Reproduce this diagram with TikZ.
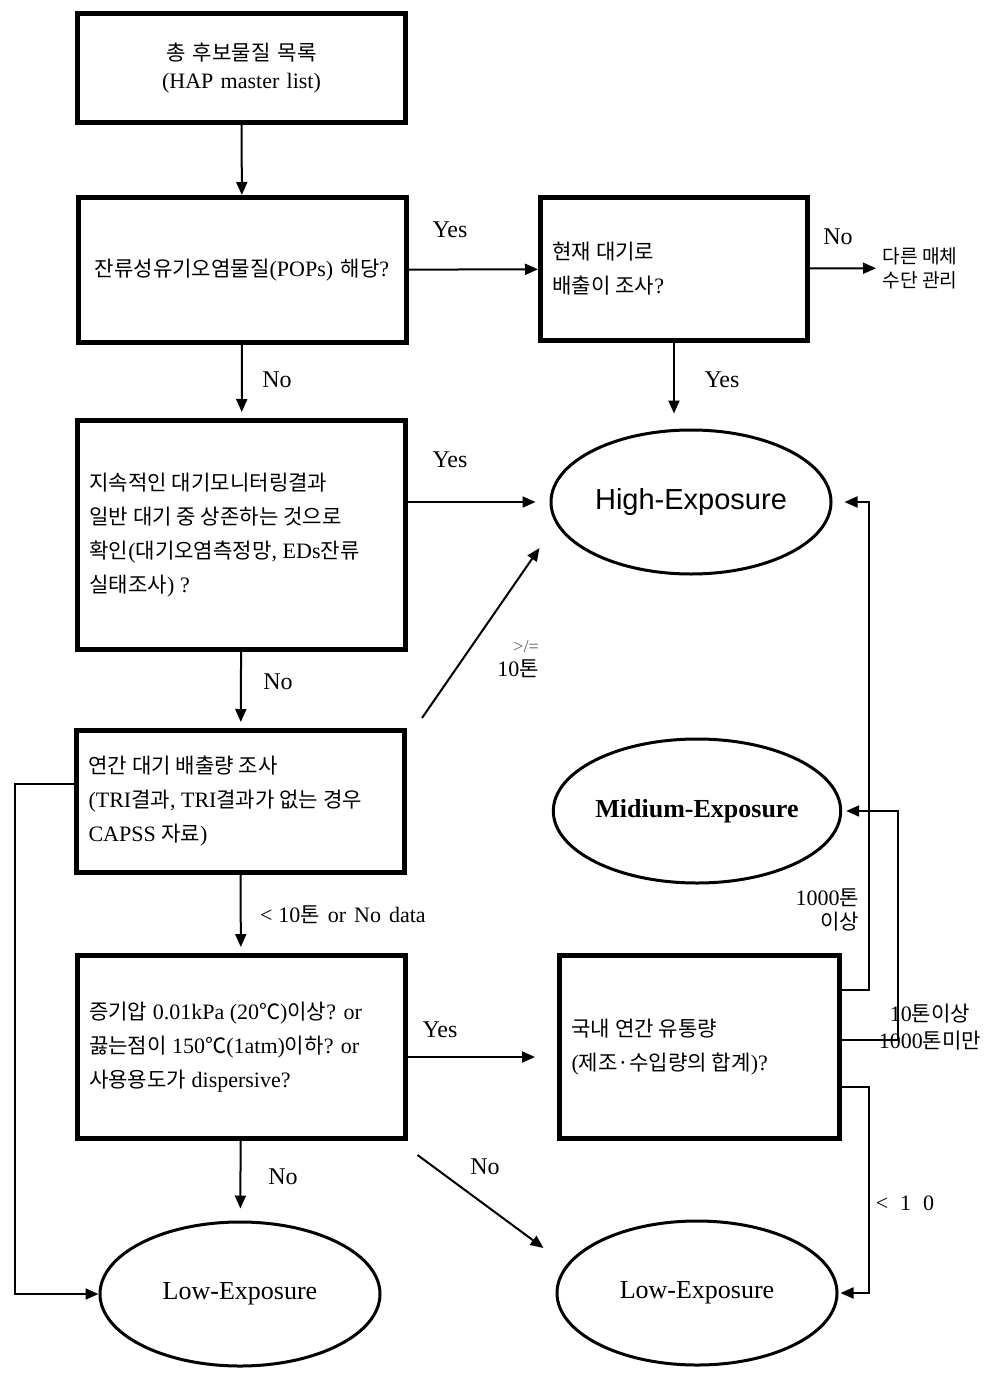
\documentclass[tikz,border=0pt]{standalone}
\usepackage{fontspec}
\usetikzlibrary{shapes.geometric,arrows.meta}
\setmainfont{Liberation Serif}
\newfontfamily\krfont[Scale=0.96]{Noto Sans CJK KR}
\newfontfamily\hefont{Liberation Sans}
\newcommand\kor[1]{{\krfont #1}}
\begin{document}
\spaceskip=5pt plus 1pt minus 1pt\relax
\begin{tikzpicture}[x=0.5pt, y=-0.5pt,
    box/.style={draw, line width=2.5pt, align=flush left, inner xsep=6pt,
      text width=152pt, font=\fontsize{11}{17}\selectfont},
    oval/.style={draw, ellipse, line width=1.5pt, inner sep=0pt,
      minimum width=140pt, minimum height=72pt},
    lbl/.style={font=\fontsize{12}{14}\selectfont},
    note/.style={font=\fontsize{11}{12}\selectfont},
    arr/.style={-{Triangle[length=6.5pt,width=5.5pt]}, line width=1pt}
  ]
  \fill[white] (0,0) rectangle (1004,1380);
  \useasboundingbox (0,0) rectangle (1004,1380);
  % left column
  \node[box, align=center, minimum height=54.5pt, font=\fontsize{11}{14}\selectfont]
    (master) at (241.5,68) {\kor{총 후보물질 목록}\par(HAP master list)};
  \node[box, align=center, minimum height=72.5pt] (pops) at (242,270)
    {\kor{잔류성유기오염물질}(POPs) \kor{해당}?};
  \node[box, minimum height=114.5pt] (monitor) at (241.5,535)
    {\kor{지속적인 대기모니터링결과}\par\kor{일반 대기 중 상존하는 것으로}\par\kor{확인}(\kor{대기오염측정망}, EDs\kor{잔류}\par\kor{실태조사}) ?};
  \node[box, minimum height=71pt] (annual) at (240.5,801.5)
    {\kor{연간 대기 배출량 조사}\par(TRI\kor{결과}, TRI\kor{결과가 없는 경우}\par CAPSS \kor{자료})};
  \node[box, minimum height=91.5pt] (vapor) at (241,1047)
    {\kor{증기압} 0.01kPa (20\kor{℃})\kor{이상}? or\par\kor{끓는점이} 150\kor{℃}(1atm)\kor{이하}? or\par\kor{사용용도가} dispersive?};
  \node[oval, font=\fontsize{13}{15}\selectfont] (lowl) at (240,1294) {Low-Exposure};
  % right column
  \node[box, text width=121.5pt, minimum height=71.5pt] (emit) at (674,269)
    {\kor{현재 대기로}\par\kor{배출이 조사}?};
  \node[font=\fontsize{10}{12}\selectfont, align=flush left, anchor=west,
    text width=48pt, inner xsep=3pt] (other) at (876,268) {\kor{다른 매체}\par\kor{수단 관리}};
  \node[oval, font=\hefont\fontsize{14.5}{16}\selectfont] (high) at (691,502) {High-Exposure};
  \node[oval, font=\bfseries\fontsize{13}{15}\selectfont] (mid) at (697,811) {Midium-Exposure};
  \node[box, text width=128pt, minimum height=91.5pt] (supply) at (699.5,1047)
    {\kor{국내 연간 유통량}\par(\kor{제조·수입량의 합계})?};
  \node[oval, font=\fontsize{13}{15}\selectfont] (lowr) at (697,1293) {Low-Exposure};

  % connectors
  \draw[arr] (master) -- (pops);
  \draw[arr] (pops) -- (emit);
  \draw[arr] (emit) -- (other);
  \draw[arr, shorten >=7.5pt] (emit) -- (emit |- high.north);
  \draw[arr, shorten >=3pt] (pops) -- (monitor);
  \draw[arr, shorten >=7pt] (monitor.east |- high) -- (high);
  \draw[arr, shorten >=3pt] (monitor) -- (annual);
  \draw[arr] ([shift={(15,-10)}]annual.north east) -- ([shift={(-10,46)}]high.west);
  \draw[arr] ([yshift=9pt]annual.west) -- ++(-59,0) |- (lowl.west);
  \draw[arr, shorten >=3pt] (annual) -- (vapor);
  \draw[arr, shorten >=11pt] ([yshift=-5pt]vapor.east) -- ([yshift=-5pt]supply.west);
  \draw[arr, shorten >=6pt] (vapor) -- (lowl);
  \draw[arr] ([shift={(10,14)}]vapor.south east) -- ([shift={(-12,-45)}]lowr.west);
  \draw[arr] ([yshift=28.5pt]supply.east) -- ++(27,0) |- ([xshift=6pt]high.east);
  \draw[arr] ([yshift=3.5pt]supply.east) -- ++(56,0) |- ([xshift=2pt]mid.east);
  \draw[arr] ([yshift=-20pt]supply.east) -- ++(27,0) |- ([xshift=1pt]lowr.east);

  % labels
  \node[lbl] (yes1) at (450,230) {Yes};
  \node[lbl] (no1) at (838,237) {No};
  \node[lbl] (yes2) at (722,380) {Yes};
  \node[lbl] (no2) at (277,380) {No};
  \node[lbl] (yes3) at (450,460) {Yes};
  \node[lbl] (no3) at (278,682) {No};
  \node[font=\fontsize{9}{10}\selectfont, text=gray!70!black] (geq) at (526,647) {>/=};
  \node[note] (ten) at (518,669) {10\kor{톤}};
  \node[note, anchor=west] (less) at (253,915) {<\hspace{3pt}10\kor{톤}\hspace{4pt}or\hspace{4pt}No\hspace{4pt}data};
  \node[lbl] (yes4) at (440,1030) {Yes};
  \node[lbl] (no4) at (283,1177) {No};
  \node[lbl] (no5) at (485,1167) {No};
  \node[note, align=flush right, anchor=east, text width=36pt] (over) at (866,910)
    {1000\kor{톤}\par\kor{이상}};
  \node[note, align=center, text width=58pt, font=\fontsize{11}{13.5}\selectfont] (range)
    at (930,1027) {10\kor{톤이상}\par 1000\kor{톤미만}};
  \node[note] (under) at (905,1203) {<\hspace{6pt}1\hspace{6pt}0};
\end{tikzpicture}
\end{document}
